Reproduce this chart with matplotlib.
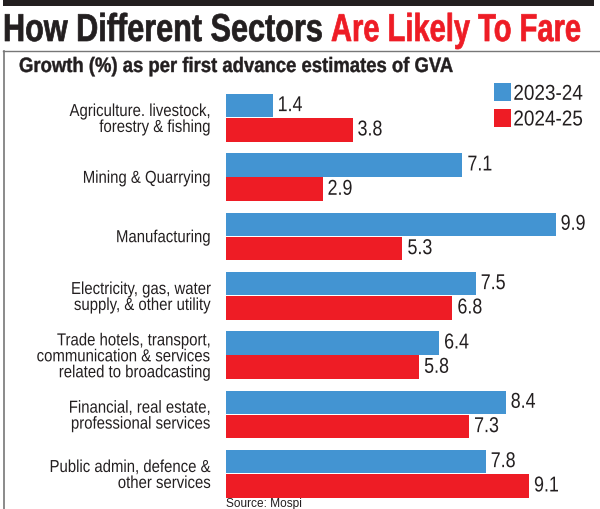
import numpy as np
import matplotlib
matplotlib.use("Agg")
import matplotlib.pyplot as plt
from matplotlib.lines import Line2D
from matplotlib.patches import Rectangle
from matplotlib.patheffects import AbstractPathEffect
from matplotlib.transforms import Affine2D, Bbox

W, H = 600, 509

sectors = [
    "Agriculture. livestock,\nforestry & fishing",
    "Mining & Quarrying",
    "Manufacturing",
    "Electricity, gas, water\nsupply, & other utility",
    "Trade hotels, transport,\ncommunication & services\nrelated to broadcasting",
    "Financial, real estate,\nprofessional services",
    "Public admin, defence &\nother services",
]
growth_2324 = [1.4, 7.1, 9.9, 7.5, 6.4, 8.4, 7.8]
growth_2425 = [3.8, 2.9, 5.3, 6.8, 5.8, 7.3, 9.1]
years = ["2023-24", "2024-25"]

BLUE = "#4394d2"
RED = "#ee1c25"
DARK = "#231f20"

plt.rcParams["font.family"] = ["Liberation Sans", "DejaVu Sans"]


class Squeeze(AbstractPathEffect):
    # the reference font is condensed, none is installed, so scale glyphs
    def __init__(self, sx, x0, sy=1, y0=0, stroke=0):
        super().__init__()
        self.sx, self.x0 = sx, x0
        self.sy, self.y0 = sy, y0
        self.stroke = stroke

    def draw_path(self, renderer, gc, tpath, affine, rgbFace=None):
        scale = (Affine2D().translate(-self.x0, -self.y0).scale(self.sx, self.sy)
                 .translate(self.x0, self.y0))
        gc0 = renderer.new_gc()
        gc0.copy_properties(gc)
        gc0.set_linewidth(self.stroke)
        if self.stroke:
            gc0.set_foreground(rgbFace)
        renderer.draw_path(gc0, tpath, affine + scale, rgbFace)
        gc0.restore()


def squeeze_text(t, sx, anchor="left"):
    box = t.get_window_extent()
    x0 = box.x0 if anchor == "left" else box.x1
    t.set_path_effects([Squeeze(sx, x0)])
    orig = t.get_window_extent

    def narrow_extent(renderer=None, dpi=None):
        b = orig(renderer, dpi)
        return Bbox.from_extents(x0 + (b.x0 - x0) * sx, b.y0, x0 + (b.x1 - x0) * sx, b.y1)

    t.get_window_extent = narrow_extent


def fit_tall_text(t, width_px, tall_size, baseline_px, stroke=0):
    # shrink the font to the wanted width, then stretch it back up in y
    size = t.get_fontsize() * width_px / t.get_window_extent().width
    t.set_fontsize(size)
    t.set_path_effects([Squeeze(1, 0, tall_size / size, H - baseline_px, stroke)])


def fx(px):
    return px / W


def fy(px):
    return 1 - px / H


fig = plt.figure(figsize=(W / 100, H / 100), dpi=100)

# axes sized so one unit of growth is about 33.3 px and one row about 59.3 px
ax = fig.add_axes([fx(226), fy(503), (590 - 226) / W, (503 - 88) / H])
y = np.arange(len(sectors))
ax.barh(y - 0.2, growth_2324, height=0.39, color=BLUE, label=years[0])
ax.barh(y + 0.21, growth_2425, height=0.40, color=RED, label=years[1])
ax.set_xlim(0, 364 / 33.3)
ax.set_ylim(6 + (503 - 473.5) / 59.33, -(117.5 - 88) / 59.33)
for s in ax.spines.values():
    s.set_visible(False)
ax.set_xticks([])
ax.set_yticks(y)
ax.set_yticklabels(sectors, fontsize=12.5, color=DARK, linespacing=1.08)
ax.tick_params(axis="y", length=0, pad=10.8)

value_labels = []
for i in y:
    value_labels.append(ax.annotate(f"{growth_2324[i]}", (growth_2324[i], i - 0.2), xytext=(3.6, 0),
                                    textcoords="offset points", va="center", fontsize=15.5, color=DARK))
    value_labels.append(ax.annotate(f"{growth_2425[i]}", (growth_2425[i], i + 0.21), xytext=(3.6, 0),
                                    textcoords="offset points", va="center", fontsize=15.5, color=DARK))

leg = ax.legend(loc="upper left", bbox_to_anchor=(0.735, 1.011), frameon=False, fontsize=15.5,
                handlelength=0.8, handleheight=0.9, handletextpad=0.12, labelspacing=0.2,
                borderpad=0, borderaxespad=0)
for t in leg.get_texts():
    t.set_color(DARK)

# header rule and frame
fig.add_artist(Rectangle((fx(3), fy(6)), fx(594 - 3), 6 / H, transform=fig.transFigure, color=DARK, lw=0))
fig.add_artist(Line2D([fx(3.5), fx(3.5)], [fy(51), 0], color="#777777", lw=1.2))
fig.add_artist(Line2D([fx(3), 1], [fy(51), fy(51)], color="#777777", lw=1.0))

title_a = fig.text(fx(3), fy(41), "How Different Sectors", fontsize=28, fontweight="bold", color=DARK)
title_b = fig.text(fx(331), fy(41), "Are Likely To Fare", fontsize=28, fontweight="bold", color=RED)
subtitle = fig.text(fx(19), fy(72), "Growth (%) as per first advance estimates of GVA", fontsize=15,
                    fontweight="bold", color=DARK)
source = fig.text(fx(226), fy(507), "Source: Mospi", fontsize=8.6, color=DARK)

fig.canvas.draw()
fit_tall_text(title_a, 320, 28, 41, stroke=0.5)
fit_tall_text(title_b, 250, 28, 41, stroke=0.5)
fit_tall_text(subtitle, 436, 15, 72, stroke=0.3)
for t in ax.get_yticklabels():
    squeeze_text(t, 0.86, anchor="right")
for t in value_labels:
    squeeze_text(t, 0.83)
for t in leg.get_texts():
    squeeze_text(t, 0.88)

fig.savefig("out.png", dpi=100)
